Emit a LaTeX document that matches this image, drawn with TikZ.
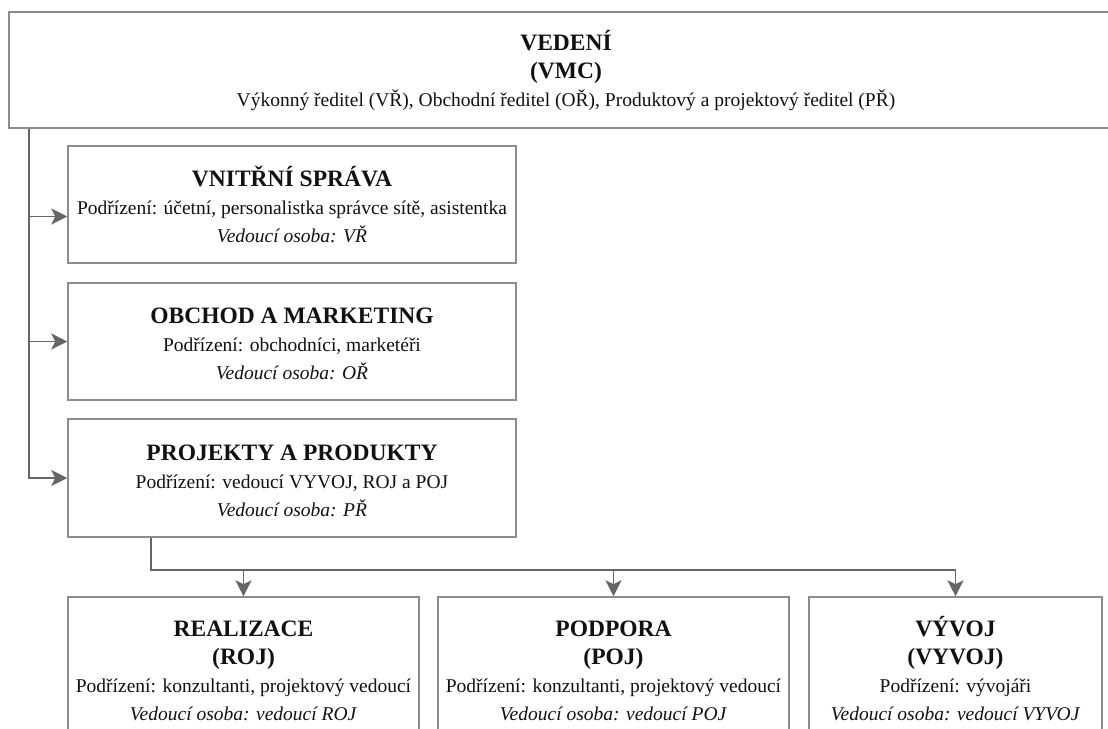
\documentclass[tikz,border=0pt]{standalone}
\usepackage{fontspec}
\setmainfont{Liberation Serif}
\usetikzlibrary{arrows.meta,calc}
\definecolor{boxline}{RGB}{140,140,140}
\definecolor{connline}{RGB}{102,102,102}
\definecolor{txt}{RGB}{17,17,17}
\tikzset{
  orgbox/.style={draw=boxline, line width=1.5pt, fill=white, rectangle, inner sep=0pt,
    align=center, text=txt, font=\fontsize{19.5}{28}\selectfont},
  conn/.style={draw=connline, line width=1.8pt},
  arr/.style={conn, -{Stealth[length=16pt,width=16pt,inset=4pt]}},
}
\newcommand{\ttl}[1]{{\bfseries\fontsize{23.5}{28}\selectfont\vphantom{ÝŘ}#1}}
\begin{document}
\begin{tikzpicture}[x=1pt,y=-1pt]
\useasboundingbox (0,0) rectangle (1108,728);
\clip (0,0) rectangle (1108,728);
\fill[white] (0,0) rectangle (1108,728);

\node[orgbox, minimum width=1114pt, minimum height=116pt] (top) at (566,70)
  {\ttl{VEDENÍ}\\ \ttl{(VMC)}\\ Výkonný ředitel (VŘ), Obchodní ředitel (OŘ), Produktový a projektový ředitel (PŘ)};

\node[orgbox, minimum width=448pt, minimum height=117pt] (vs) at (292,204.5)
  {\ttl{VNITŘNÍ SPRÁVA}\\ Podřízení: účetní, personalistka správce sítě, asistentka\\ \textit{Vedoucí osoba: VŘ}};
\node[orgbox, minimum width=448pt, minimum height=117pt] (om) at (292,341.5)
  {\ttl{OBCHOD A MARKETING}\\ Podřízení: obchodníci, marketéři\\ \textit{Vedoucí osoba: OŘ}};
\node[orgbox, minimum width=448pt, minimum height=118pt] (pp) at (292,478)
  {\ttl{PROJEKTY A PRODUKTY}\\ Podřízení: vedoucí VYVOJ, ROJ a POJ\\ \textit{Vedoucí osoba: PŘ}};

\node[orgbox, minimum width=351pt, minimum height=142pt] (rea) at (243.5,668)
  {\ttl{REALIZACE}\\ \ttl{(ROJ)}\\ Podřízení: konzultanti, projektový vedoucí\\ \textit{Vedoucí osoba: vedoucí ROJ}};
\node[orgbox, minimum width=351pt, minimum height=142pt] (pod) at (613.5,668)
  {\ttl{PODPORA}\\ \ttl{(POJ)}\\ Podřízení: konzultanti, projektový vedoucí\\ \textit{Vedoucí osoba: vedoucí POJ}};
\node[orgbox, minimum width=293pt, minimum height=142pt] (vyv) at (955.5,668)
  {\ttl{VÝVOJ}\\ \ttl{(VYVOJ)}\\ Podřízení: vývojáři\\ \textit{Vedoucí osoba: vedoucí VYVOJ}};

% trunk from top box
\coordinate (t0) at (top.south west -| 29,0);
\coordinate (e1) at ([yshift=-12pt]vs.west);
\draw[arr] (t0) |- (e1);
\draw[arr] (t0) |- (om.west);
\draw[arr] (t0) |- (pp.west);

% bus below projects
\coordinate (b0) at (pp.south -| 151,0);
\coordinate (bus) at (151,570);
\draw[arr] (b0) -- (bus) -| (rea.north);
\draw[arr] (bus) -| (pod.north);
\draw[arr] (bus) -| (vyv.north);
\end{tikzpicture}
\end{document}
